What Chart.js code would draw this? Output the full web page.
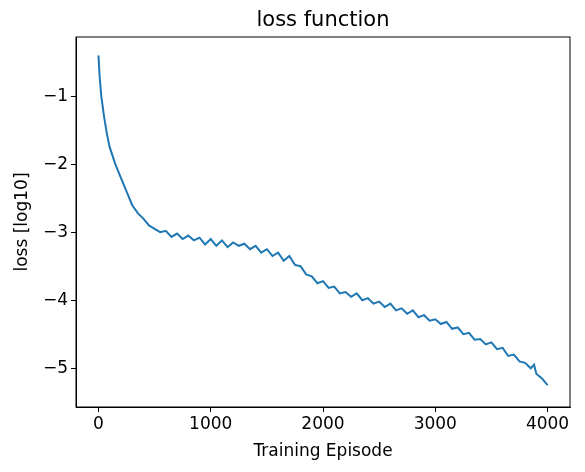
<!DOCTYPE html>
<html><head><meta charset="utf-8">
<script src="https://cdn.jsdelivr.net/npm/chart.js@4"></script>
<style>html,body{margin:0;background:#fff}#wrap{width:585px;height:472px}</style>
</head><body><div id="wrap"><canvas id="c"></canvas></div>
<script>
const episodes = [0,10,25,50,75,100,150,200,250,300,350,400,450,
  500,550,600,650,700,750,800,850,900,950,1000,1050,1100,1150,1200,1250,1300,1350,1400,1450,
  1500,1550,1600,1650,1700,1750,1800,1850,1900,1950,2000,2050,2100,2150,2200,2250,2300,2350,
  2400,2450,2500,2550,2600,2650,2700,2750,2800,2850,2900,2950,3000,3050,3100,3150,3200,3250,
  3300,3350,3400,3450,3500,3550,3600,3650,3700,3750,3800,3850,3880,3900,3950,4000];
const loss = [-0.4,-0.7,-1.0,-1.3,-1.55,-1.75,-2.0,-2.2,-2.4,-2.6,-2.72,-2.8,-2.9,
  -2.95,-3.0,-2.98,-3.07,-3.02,-3.1,-3.05,-3.12,-3.08,-3.18,-3.1,-3.2,-3.12,-3.22,-3.15,-3.2,-3.17,-3.25,-3.2,-3.3,
  -3.25,-3.35,-3.3,-3.42,-3.35,-3.48,-3.5,-3.62,-3.65,-3.75,-3.72,-3.82,-3.8,-3.9,-3.88,-3.95,-3.9,-4.0,
  -3.97,-4.05,-4.02,-4.1,-4.05,-4.15,-4.12,-4.2,-4.15,-4.25,-4.22,-4.3,-4.28,-4.35,-4.32,-4.42,-4.4,-4.5,
  -4.48,-4.58,-4.57,-4.65,-4.62,-4.72,-4.7,-4.82,-4.8,-4.9,-4.92,-5.0,-4.95,-5.08,-5.15,-5.25];
const xTicks = [0,1000,2000,3000,4000];
const yTicks = [-1,-2,-3,-4,-5];

const FONT = 'DejaVu Sans';
const frame = {
  id: 'frame',
  afterDraw(chart) {
    const {ctx, chartArea: a} = chart;
    ctx.save();
    ctx.strokeStyle = '#000'; ctx.lineWidth = 1;
    ctx.strokeRect(a.left, a.top, a.right - a.left, a.bottom - a.top);
    ctx.fillStyle = '#000'; ctx.font = '21px ' + FONT;
    ctx.textAlign = 'center'; ctx.textBaseline = 'bottom';
    ctx.fillText('loss function', (a.left + a.right) / 2, a.top - 6);
    ctx.restore();
  }
};

new Chart(document.getElementById('c'), {
  type: 'line',
  data: { datasets: [{ data: episodes.map((e, i) => ({x: e, y: loss[i]})),
    borderColor: '#1f77b4', borderWidth: 2, pointRadius: 0, tension: 0 }] },
  options: {
    responsive: true, maintainAspectRatio: false, animation: false,
    layout: { padding: { top: 37, right: 15, left: 12, bottom: 0 } },
    plugins: { legend: { display: false }, tooltip: { enabled: false } },
    scales: {
      x: {
        type: 'linear', min: -200, max: 4200,
        afterBuildTicks: s => { s.ticks = xTicks.map(v => ({value: v})); },
        afterFit: s => { s.height = 65; },
        grid: { drawOnChartArea: false, tickLength: 5, color: '#000' },
        border: { color: '#000' },
        ticks: { color: '#000', font: { family: FONT, size: 17 }, maxRotation: 0, padding: 2, callback: v => String(v) },
        title: { display: true, text: 'Training Episode', color: '#000', font: { family: FONT, size: 17 }, padding: { top: 0, bottom: 10 } }
      },
      y: {
        min: -5.57, max: -0.13,
        afterBuildTicks: s => { s.ticks = yTicks.map(v => ({value: v})); },
        afterFit: s => { s.width = 64; },
        grid: { drawOnChartArea: false, tickLength: 5, color: '#000' },
        border: { color: '#000' },
        ticks: { color: '#000', font: { family: FONT, size: 17 }, padding: 3, callback: v => '\u2212' + Math.abs(v) },
        title: { display: true, text: 'loss [log10]', color: '#000', font: { family: FONT, size: 17 }, padding: { top: 0, bottom: 0 } }
      }
    }
  },
  plugins: [frame]
});
</script></body></html>
